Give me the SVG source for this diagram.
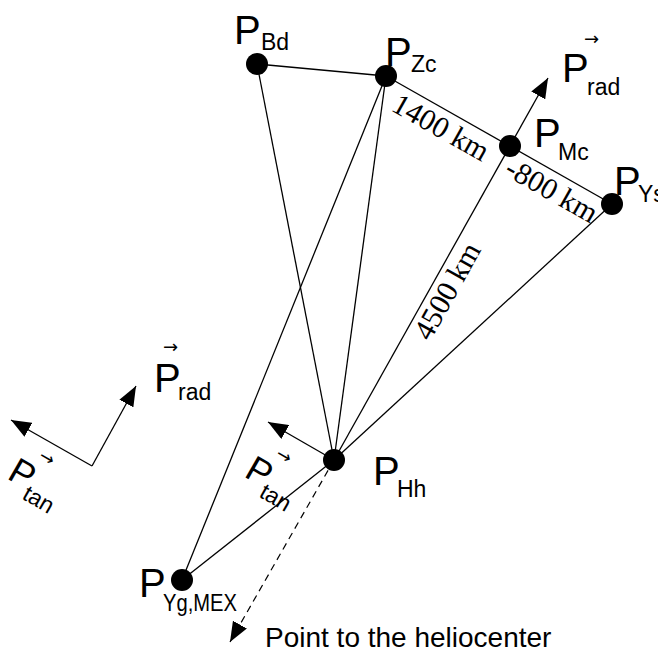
<svg xmlns="http://www.w3.org/2000/svg" width="658" height="654" viewBox="0 0 658 654">
<defs>
<style>
.ln{stroke:#000;stroke-width:1.3;fill:none}
.dash{stroke:#000;stroke-width:1.2;fill:none;stroke-dasharray:7,5}
.dot{fill:#000}
.P{font-family:"Liberation Sans",Arial,sans-serif;font-size:40px;fill:#000}
.sub{font-family:"Liberation Sans",Arial,sans-serif;font-size:23px;fill:#000}
.vec{font-family:"DejaVu Sans",sans-serif;font-size:18px;fill:#000}
.dist{font-family:"Liberation Serif","Times New Roman",serif;font-size:30px;fill:#000}
.note{font-family:"Liberation Sans",Arial,sans-serif;font-size:28px;fill:#000}
</style>
<marker id="ah" viewBox="0 0 20 16" refX="20" refY="8" markerWidth="20" markerHeight="16" markerUnits="userSpaceOnUse" orient="auto">
<path d="M0,0 L20,8 L0,16 Z" fill="#000"/>
</marker>
</defs>
<rect width="658" height="654" fill="#fff"/>
<g id="connectors">
<line class="ln" x1="257" y1="64" x2="386" y2="76"/>
<line class="ln" x1="386" y1="76" x2="612" y2="204"/>
<line class="ln" x1="257" y1="64" x2="334" y2="460"/>
<line class="ln" x1="386" y1="76" x2="334" y2="460"/>
<line class="ln" x1="386" y1="76" x2="182" y2="580"/>
<line class="ln" x1="612" y1="204" x2="334" y2="460"/>
<line class="ln" x1="334" y1="460" x2="182" y2="580"/>
<line class="ln" x1="334" y1="460" x2="548" y2="78" marker-end="url(#ah)"/>
<line class="ln" x1="334" y1="460" x2="268" y2="422" marker-end="url(#ah)"/>
<line class="dash" x1="334" y1="460" x2="230" y2="642" marker-end="url(#ah)"/>
<line class="ln" x1="92" y1="466" x2="136" y2="386" marker-end="url(#ah)"/>
<line class="ln" x1="92" y1="466" x2="11" y2="420" marker-end="url(#ah)"/>
</g>
<g id="node-Bd">
<circle class="dot" cx="257" cy="64" r="11"/>
<text class="P" x="234" y="44">P</text><text class="sub" x="261" y="50">Bd</text>
</g>
<g id="node-Zc">
<circle class="dot" cx="386" cy="76" r="11"/>
<text class="P" x="385" y="66">P</text><text class="sub" x="411" y="72">Zc</text>
</g>
<g id="node-Mc">
<circle class="dot" cx="510" cy="146" r="11"/>
<text class="P" x="534" y="147">P</text><text class="sub" x="558" y="160">Mc</text>
</g>
<g id="node-Ys">
<circle class="dot" cx="612" cy="204" r="11"/>
<text class="P" x="614" y="195">P</text><text class="sub" x="638" y="202">Ys</text>
</g>
<g id="node-Hh">
<circle class="dot" cx="334" cy="460" r="11"/>
<text class="P" x="373" y="485">P</text><text class="sub" x="397" y="497">Hh</text>
</g>
<g id="node-Yg">
<circle class="dot" cx="182" cy="580" r="11"/>
<text class="P" x="139" y="597">P</text><text class="sub" x="163" y="611" textLength="74" lengthAdjust="spacingAndGlyphs">Yg,MEX</text>
</g>
<g id="label-Prad-top">
<text class="vec" x="584" y="45">→</text>
<text class="P" x="562" y="82">P</text><text class="sub" x="587" y="95">rad</text>
</g>
<g id="label-Prad-left">
<text class="vec" x="163" y="353">→</text>
<text class="P" x="154" y="392">P</text><text class="sub" x="178" y="400">rad</text>
</g>
<g id="label-Ptan-left" transform="translate(6,478) rotate(30)">
<text class="vec" x="18" y="-32">→</text>
<text class="P" x="0" y="0" style="font-size:36px">P</text><text class="sub" x="23" y="10">tan</text>
</g>
<g id="label-Ptan-Hh" transform="translate(243,476) rotate(30)">
<text class="vec" x="18" y="-32">→</text>
<text class="P" x="0" y="0" style="font-size:36px">P</text><text class="sub" x="23" y="10">tan</text>
</g>
<g id="distances">
<text class="dist" transform="translate(390,110) rotate(29.5)">1400 km</text>
<text class="dist" transform="translate(503,174) rotate(29.6)">-800 km</text>
<text class="dist" transform="translate(430,342) rotate(-60.7)">4500 km</text>
</g>
<text class="note" x="265" y="647">Point to the heliocenter</text>
</svg>
